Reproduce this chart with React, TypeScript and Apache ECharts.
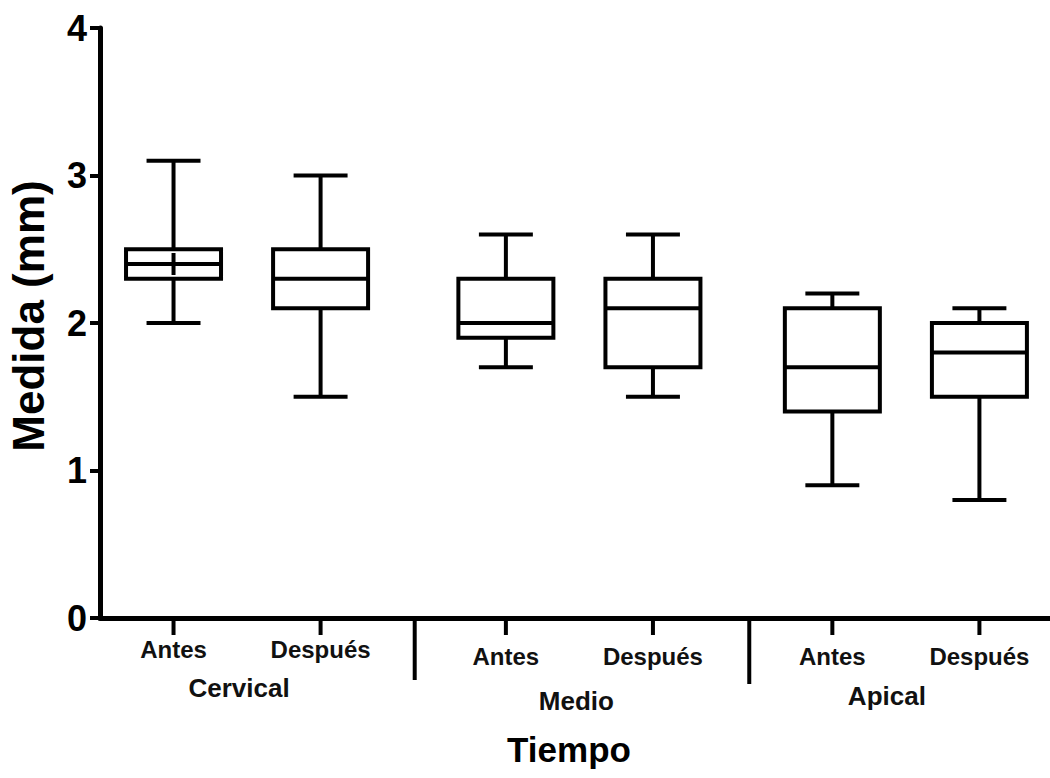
import React, { useEffect, useRef } from "react";
import * as echarts from "echarts";

// ---- Data ----
const groups = ["Cervical", "Medio", "Apical"];
const conditions = ["Antes", "Después"];
const whiskerMin = [2.0, 1.5, 1.7, 1.5, 0.9, 0.8];
const q1 = [2.3, 2.1, 1.9, 1.7, 1.4, 1.5];
const median = [2.4, 2.3, 2.0, 2.1, 1.7, 1.8];
const q3 = [2.5, 2.5, 2.3, 2.3, 2.1, 2.0];
const whiskerMax = [3.1, 3.0, 2.6, 2.6, 2.2, 2.1];
const mean: (number | null)[] = [2.4, null, null, null, null, null];
const yMin = 0;
const yMax = 4;
const yInterval = 1;
const xTitle = "Tiempo";
const yTitle = "Medida (mm)";

// ---- Layout (not data) ----
const GROUP_START = [1, 3.26, 5.48];
const SEPARATORS = [2.64, 4.915];
const X_MIN = 0.5;
const X_MAX = 6.96;
const TICK_LABEL_DY = [31.5, 38, 38];
const GROUP_LABEL_DX = [-8, -3, -19];
const GROUP_LABEL_DY = [70, 83, 78];
const FONT = '"Liberation Sans", Arial, Helvetica, sans-serif';
const INK = "#000";

const boxData = groups.flatMap((_, gi) =>
  conditions.map((__, ci) => {
    const i = gi * conditions.length + ci;
    return [GROUP_START[gi] + ci, whiskerMin[i], q1[i], median[i], q3[i], whiskerMax[i]];
  })
);

export default function App() {
  const ref = useRef<HTMLDivElement>(null);
  useEffect(() => {
    if (!ref.current) return;
    const chart = echarts.init(ref.current, null, { renderer: "svg" });
    const option: any = {
      animation: false,
      backgroundColor: "#fff",
      grid: { left: 100, right: 0, top: 28, bottom: 160, containLabel: false },
      xAxis: {
        type: "value",
        min: X_MIN,
        max: X_MAX,
        axisLine: { show: true, lineStyle: { color: INK, width: 5 } },
        axisTick: { show: false },
        axisLabel: { show: false },
        splitLine: { show: false },
      },
      yAxis: {
        type: "value",
        min: yMin,
        max: yMax,
        interval: yInterval,
        axisLine: { show: true, lineStyle: { color: INK, width: 5 } },
        axisTick: { show: true, length: 10, lineStyle: { color: INK, width: 4 } },
        axisLabel: {
          margin: 13,
          color: INK,
          fontSize: 36,
          fontWeight: "bold",
          fontFamily: FONT,
        },
        splitLine: { show: false },
      },
      graphic: [
        {
          type: "text",
          x: 569,
          y: 749,
          style: {
            text: xTitle,
            fill: INK,
            fontSize: 35,
            fontWeight: "bold",
            fontFamily: FONT,
            align: "center",
            verticalAlign: "middle",
          },
        },
        {
          type: "text",
          x: 28,
          y: 316,
          rotation: Math.PI / 2,
          style: {
            text: yTitle,
            fill: INK,
            fontSize: 44,
            fontWeight: "bold",
            fontFamily: FONT,
            align: "center",
            verticalAlign: "middle",
          },
        },
      ],
      series: [
        {
          type: "custom",
          name: "boxes",
          clip: false,
          data: boxData,
          encode: { x: 0, y: [1, 2, 3, 4, 5] },
          renderItem: (params: any, api: any) => {
            const i = params.dataIndex;
            const gi = Math.floor(i / conditions.length);
            const ci = i % conditions.length;
            const xv = api.value(0);
            const unit = api.size([1, 0])[0];
            const bw = unit * 0.646;
            const cw = unit * 0.367;
            const [cx, yMinP] = api.coord([xv, api.value(1)]);
            const yQ1 = api.coord([xv, api.value(2)])[1];
            const yMed = api.coord([xv, api.value(3)])[1];
            const yQ3 = api.coord([xv, api.value(4)])[1];
            const yMaxP = api.coord([xv, api.value(5)])[1];
            const yAxisP = api.coord([xv, yMin])[1];
            const ls = { stroke: INK, lineWidth: 4, fill: "none" };
            const children: any[] = [
              { type: "line", shape: { x1: cx, y1: yQ3, x2: cx, y2: yMaxP }, style: ls },
              { type: "line", shape: { x1: cx, y1: yQ1, x2: cx, y2: yMinP }, style: ls },
              { type: "line", shape: { x1: cx - cw / 2, y1: yMaxP, x2: cx + cw / 2, y2: yMaxP }, style: ls },
              { type: "line", shape: { x1: cx - cw / 2, y1: yMinP, x2: cx + cw / 2, y2: yMinP }, style: ls },
              {
                type: "rect",
                shape: { x: cx - bw / 2, y: yQ3, width: bw, height: yQ1 - yQ3 },
                style: { stroke: INK, lineWidth: 4, fill: "#fff" },
              },
              { type: "line", shape: { x1: cx - bw / 2, y1: yMed, x2: cx + bw / 2, y2: yMed }, style: ls },
              { type: "line", shape: { x1: cx, y1: yAxisP, x2: cx, y2: yAxisP + 17 }, style: ls },
              {
                type: "text",
                x: cx,
                y: yAxisP + TICK_LABEL_DY[gi],
                style: {
                  text: conditions[ci],
                  fill: "#111",
                  fontSize: 24,
                  fontWeight: "bold",
                  fontFamily: FONT,
                  align: "center",
                  verticalAlign: "middle",
                },
              },
            ];
            const m = mean[i];
            if (m !== null && m !== undefined) {
              const ym = api.coord([xv, m])[1];
              children.push(
                { type: "line", shape: { x1: cx - 11, y1: ym, x2: cx + 11, y2: ym }, style: ls },
                { type: "line", shape: { x1: cx, y1: ym - 11, x2: cx, y2: ym + 11 }, style: ls }
              );
            }
            return { type: "group", children };
          },
        },
        {
          type: "custom",
          name: "groups",
          clip: false,
          data: groups.map((_, gi) => [GROUP_START[gi] + (conditions.length - 1) / 2, yMin]),
          encode: { x: 0, y: 1 },
          renderItem: (params: any, api: any) => {
            const gi = params.dataIndex;
            const [cx, cy] = api.coord([api.value(0), api.value(1)]);
            return {
              type: "text",
              x: cx + GROUP_LABEL_DX[gi],
              y: cy + GROUP_LABEL_DY[gi],
              style: {
                text: groups[gi],
                fill: "#111",
                fontSize: 26,
                fontWeight: "bold",
                fontFamily: FONT,
                align: "center",
                verticalAlign: "middle",
              },
            };
          },
        },
        {
          type: "custom",
          name: "separators",
          clip: false,
          data: SEPARATORS.map((s) => [s, yMin]),
          encode: { x: 0, y: 1 },
          renderItem: (params: any, api: any) => {
            const [sx, sy] = api.coord([api.value(0), api.value(1)]);
            return {
              type: "line",
              shape: { x1: sx, y1: sy, x2: sx, y2: sy + 62 + params.dataIndex * 4 },
              style: { stroke: INK, lineWidth: 4 },
            };
          },
        },
      ],
    };
    chart.setOption(option);
    return () => chart.dispose();
  }, []);
  return (
    <div
      ref={ref}
      style={{ position: "fixed", left: 0, top: 0, width: 1050, height: 778, background: "#fff" }}
    />
  );
}
